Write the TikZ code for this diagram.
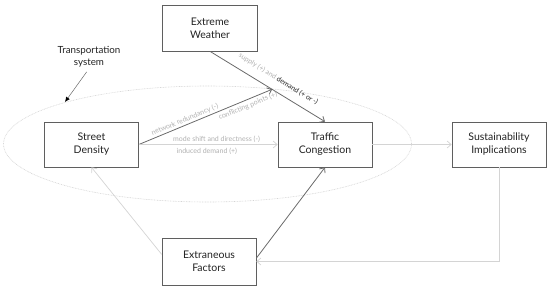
\documentclass[tikz,border=0pt]{standalone}
\usepackage{fontspec}
\setmainfont{Lato}
\usetikzlibrary{arrows.meta,calc}
\definecolor{boxc}{HTML}{5F5F5F}
\definecolor{darkc}{HTML}{6A6A6A}
\definecolor{lightc}{HTML}{D4D4D4}
\definecolor{labc}{HTML}{B0B0B0}
\definecolor{txtc}{HTML}{222222}
\begin{document}
\begin{tikzpicture}[x=1pt,y=-1pt,
  box/.style={draw=boxc, line width=0.7pt, minimum width=94pt, minimum height=45pt, align=center, font=\fontsize{10.5}{13}\selectfont, text=txtc, inner sep=0pt},
  darkarrow/.style={draw=darkc, line width=0.8pt, -{Straight Barb[length=4pt,width=7pt]}},
  lightarrow/.style={draw=lightc, line width=0.7pt, -{Straight Barb[length=4pt,width=7pt]}},
  lab/.style={font=\fontsize{7}{8}\selectfont, text=labc, inner sep=1.5pt},
]
\useasboundingbox (0,0) rectangle (550,289);
\draw[lightc, dash pattern=on 0.8pt off 0.8pt, line width=0.6pt] (207.5,144) ellipse [x radius=204pt, y radius=58pt];

\node[box, minimum height=46pt, minimum width=95pt] (ew) at (210,28) {Extreme\\Weather};
\node[box] (sd) at (91.5,144.5) {Street\\Density};
\node[box] (tc) at (325,144.5) {Traffic\\Congestion};
\node[box] (si) at (499,144.5) {Sustainability\\Implications};
\node[box, minimum height=47pt] (ef) at (209,261.5) {Extraneous\\Factors};

\node[font=\fontsize{9.8}{12}\selectfont, align=center, text=txtc, inner sep=1pt] (ts) at (89,57) {Transportation\\system};
\coordinate (tsend) at (65,102);
\draw[darkc, line width=0.5pt, shorten <=4pt, -{Latex[length=5pt,width=4.5pt,fill=black,color=black]}] (ts.south) -- (tsend);

\coordinate (m) at ($(ew.south)!0.54!(tc.north)$);
\draw[darkarrow] (ew.south) -- (tc.north);
\node[lab, rotate=-31.7, inner sep=0pt] (ewlab) at ($(m)!12pt!90:(tc.north)$) {supply (+) and \textcolor{txtc}{demand (+ or -)}};
\draw[darkarrow] (sd.east) -- (m)
  node[lab, pos=0.36, sloped, above] {network redundancy (-)}
  node[lab, pos=0.8, sloped, below, yshift=-1pt] {conflicting points (+)};
\draw[lightarrow] (sd.east) -- (tc.west)
  node[lab, pos=0.56, above] {mode shift and directness (-)}
  node[lab, pos=0.49, below, yshift=-1.5pt] {induced demand (+)};
\draw[lightarrow] (tc.east) -- (si.west);
\draw[lightarrow] ($(ef.north west)!0.35!(ef.south west)$) -- (sd.south);
\draw[darkarrow] ($(ef.north east)!0.43!(ef.south east)$) -- (tc.south);
\draw[lightarrow] (si.south) |- (ef.east);
\end{tikzpicture}
\end{document}
